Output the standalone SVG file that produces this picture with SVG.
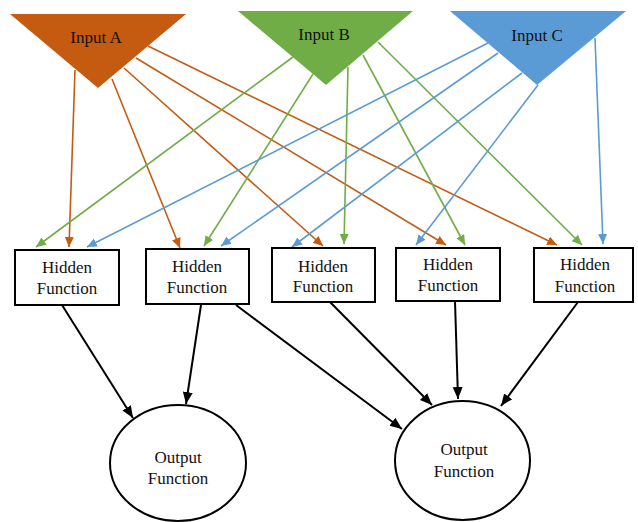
<svg xmlns="http://www.w3.org/2000/svg" width="638" height="522" viewBox="0 0 638 522">
<style>
text{font-family:"Liberation Serif","Times New Roman",serif;font-size:17px;fill:#111;text-anchor:middle}
.box{fill:#fff;stroke:#000;stroke-width:2}
.or{stroke:#C55A11;stroke-width:1.6;fill:none}
.gr{stroke:#70AD47;stroke-width:1.6;fill:none}
.bl{stroke:#5B9BD5;stroke-width:1.6;fill:none}
.bk{stroke:#000;stroke-width:2;fill:none}
</style>
<defs>
<marker id="ao" markerUnits="userSpaceOnUse" markerWidth="12" markerHeight="10" refX="10" refY="4.5" orient="auto"><path d="M0,0 L10,4.5 L0,9 z" fill="#C55A11"/></marker>
<marker id="ag" markerUnits="userSpaceOnUse" markerWidth="12" markerHeight="10" refX="10" refY="4.5" orient="auto"><path d="M0,0 L10,4.5 L0,9 z" fill="#70AD47"/></marker>
<marker id="ab" markerUnits="userSpaceOnUse" markerWidth="12" markerHeight="10" refX="10" refY="4.5" orient="auto"><path d="M0,0 L10,4.5 L0,9 z" fill="#5B9BD5"/></marker>
<marker id="ak" markerUnits="userSpaceOnUse" markerWidth="14" markerHeight="12" refX="12" refY="5" orient="auto"><path d="M0,0 L12,5 L0,10 z" fill="#000"/></marker>
</defs>
<rect width="638" height="522" fill="#fff"/>
<g id="inputA"><polygon points="10,14 186,14 98,88" fill="#C55A11"/><text x="96" y="43">Input A</text></g>
<g id="inputB"><polygon points="238,11 413,11 326,85" fill="#70AD47"/><text x="324" y="40">Input B</text></g>
<g id="inputC"><polygon points="450,11 626,11 537,85" fill="#5B9BD5"/><text x="537" y="41">Input C</text></g>
<g id="connectors">
<line class="or" x1="75" y1="70" x2="69" y2="247" marker-end="url(#ao)"/>
<line class="or" x1="112" y1="79" x2="180" y2="248" marker-end="url(#ao)"/>
<line class="or" x1="124" y1="68" x2="323" y2="246" marker-end="url(#ao)"/>
<line class="or" x1="136" y1="58" x2="446" y2="245" marker-end="url(#ao)"/>
<line class="or" x1="148" y1="46" x2="557" y2="245" marker-end="url(#ao)"/>
<line class="gr" x1="293" y1="57" x2="36" y2="247" marker-end="url(#ag)"/>
<line class="gr" x1="313" y1="74" x2="204" y2="246" marker-end="url(#ag)"/>
<line class="gr" x1="348" y1="67" x2="344" y2="244" marker-end="url(#ag)"/>
<line class="gr" x1="363" y1="55" x2="465" y2="245" marker-end="url(#ag)"/>
<line class="gr" x1="378" y1="42" x2="582" y2="245" marker-end="url(#ag)"/>
<line class="bl" x1="488" y1="43" x2="87" y2="247" marker-end="url(#ab)"/>
<line class="bl" x1="498" y1="53" x2="221" y2="246" marker-end="url(#ab)"/>
<line class="bl" x1="522" y1="73" x2="292" y2="247" marker-end="url(#ab)"/>
<line class="bl" x1="538" y1="85" x2="416" y2="245" marker-end="url(#ab)"/>
<line class="bl" x1="595" y1="38" x2="603" y2="244" marker-end="url(#ab)"/>
<line class="bk" x1="62" y1="305" x2="133" y2="418" marker-end="url(#ak)"/>
<line class="bk" x1="201" y1="305" x2="186" y2="404" marker-end="url(#ak)"/>
<line class="bk" x1="236" y1="305" x2="402" y2="429" marker-end="url(#ak)"/>
<line class="bk" x1="330" y1="302" x2="432" y2="405" marker-end="url(#ak)"/>
<line class="bk" x1="455" y1="301" x2="458" y2="399" marker-end="url(#ak)"/>
<line class="bk" x1="578" y1="302" x2="501" y2="406" marker-end="url(#ak)"/>
</g>
<g id="hidden1"><rect class="box" x="15" y="250" width="104" height="55"/><text x="67" y="273">Hidden</text><text x="67" y="294">Function</text></g>
<g id="hidden2"><rect class="box" x="146" y="249" width="103" height="55"/><text x="197" y="272">Hidden</text><text x="197" y="293">Function</text></g>
<g id="hidden3"><rect class="box" x="272" y="248" width="103" height="54"/><text x="323" y="272">Hidden</text><text x="323" y="292">Function</text></g>
<g id="hidden4"><rect class="box" x="396" y="248" width="104" height="53"/><text x="448" y="270">Hidden</text><text x="448" y="291">Function</text></g>
<g id="hidden5"><rect class="box" x="534" y="248" width="99" height="54"/><text x="585" y="270">Hidden</text><text x="585" y="292">Function</text></g>
<g id="output1"><ellipse cx="178" cy="463" rx="68" ry="58" fill="#fff" stroke="#000" stroke-width="2"/><text x="178" y="463">Output</text><text x="178" y="484">Function</text></g>
<g id="output2"><ellipse cx="462.5" cy="460.5" rx="67.5" ry="59.5" fill="#fff" stroke="#000" stroke-width="2"/><text x="464" y="455">Output</text><text x="464" y="477">Function</text></g>
</svg>
